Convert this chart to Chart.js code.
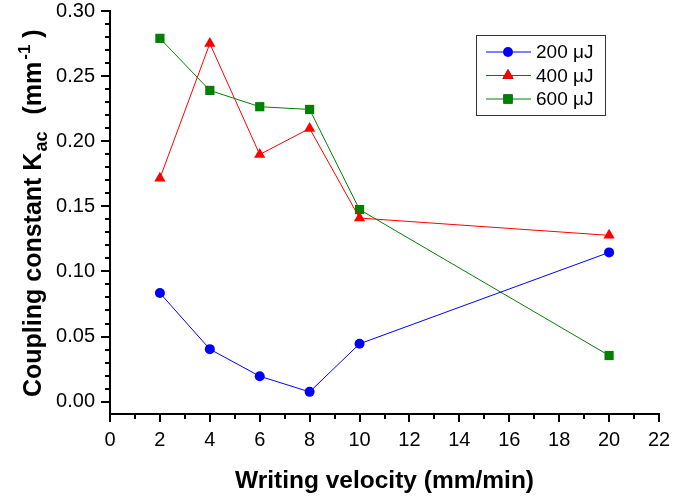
<!DOCTYPE html>
<html>
<head>
<meta charset="utf-8">
<script src="https://cdn.jsdelivr.net/npm/chart.js@4"></script>
<style>
  html, body { margin:0; padding:0; background:#fff; }
  #wrap { width:673px; height:500px; }
</style>
</head>
<body>
<div id="wrap"><canvas id="c" width="673" height="500"></canvas></div>
<script>
/* coupling constant vs writing velocity, 3 pulse energies */

const velocity = [2, 4, 6, 8, 10, 20];
const kac200 = [0.0834, 0.0403, 0.0195, 0.0075, 0.0444, 0.1146];
const kac400 = [0.1715, 0.2750, 0.1898, 0.2098, 0.1410, 0.1277];
const kac600 = [0.2790, 0.2390, 0.2265, 0.2244, 0.1475, 0.0354];
const seriesLabels = ['200 μJ', '400 μJ', '600 μJ'];
const yMajorTicks = [0, 0.05, 0.10, 0.15, 0.20, 0.25, 0.30];

const FONT = "'Liberation Sans', Arial, sans-serif";
Chart.defaults.font.family = FONT;
Chart.defaults.color = '#000';

const pts = ys => velocity.map((x, i) => ({ x, y: ys[i] }));

function ds(label, ys, color, style, r){
  return {
    label, data: pts(ys),
    borderColor: color, backgroundColor: color,
    borderWidth: 1,
    pointStyle: style, pointRadius: r, pointHoverRadius: r,
    pointBackgroundColor: color, pointBorderWidth: 0,
    tension: 0, fill: false,
  };
}

// axis tick marks (major + minor, outside)
const tickMarks = {
  id: 'tickMarks',
  afterDraw(chart){
    const { ctx, chartArea: a } = chart;
    const xs = chart.scales.x, ys = chart.scales.y;
    ctx.save();
    ctx.strokeStyle = '#000';
    ctx.lineWidth = 2;
    ctx.beginPath();
    for (let v = 0; v <= 22; v++){
      const px = Math.round(xs.getPixelForValue(v));
      ctx.moveTo(px, a.bottom);
      ctx.lineTo(px, a.bottom + (v % 2 === 0 ? 8 : 5));
    }
    for (let i = 0; i <= 30; i++){
      const py = Math.round(ys.getPixelForValue(i / 100));
      ctx.moveTo(a.left, py);
      ctx.lineTo(a.left - (i % 5 === 0 ? 9 : 5), py);
    }
    ctx.stroke();
    ctx.restore();
  }
};

// y title with subscript / superscript
const yTitle = {
  id: 'yTitle',
  afterDraw(chart){
    const ctx = chart.ctx;
    // text, size, baseline shift, gap before
    const parts = [
      ['Coupling constant K', 25, 0, 0],
      ['ac', 18, 6, 1],
      ['(mm', 25, 0, 17],
      ['-1', 17, -11, 2],
      [')', 25, 0, 7],
    ];
    ctx.save();
    ctx.translate(41, 397);
    ctx.rotate(-Math.PI / 2);
    ctx.fillStyle = '#000';
    ctx.textBaseline = 'alphabetic';
    ctx.textAlign = 'left';
    let x = 0;
    for (const [t, size, dy, gap] of parts){
      x += gap;
      ctx.font = `bold ${size}px ${FONT}`;
      ctx.fillText(t, x, dy);
      x += ctx.measureText(t).width;
    }
    ctx.restore();
  }
};

// boxed legend: line + marker + label
const boxLegend = {
  id: 'boxLegend',
  afterDraw(chart){
    const ctx = chart.ctx;
    const bx = 476, by = 35, bw = 129, bh = 80;
    const rows = [52, 75.5, 99];
    ctx.save();
    ctx.fillStyle = '#fff';
    ctx.fillRect(bx, by, bw, bh);
    ctx.strokeStyle = '#333';
    ctx.lineWidth = 1;
    ctx.strokeRect(bx + 0.5, by + 0.5, bw, bh);
    chart.data.datasets.forEach((d, i) => {
      const y = rows[i];
      ctx.strokeStyle = d.borderColor;
      ctx.lineWidth = 1;
      ctx.beginPath();
      ctx.moveTo(486, y); ctx.lineTo(531, y);
      ctx.stroke();
      Chart.helpers.drawPoint(ctx, {
        pointStyle: d.pointStyle, radius: d.pointRadius, borderWidth: 0, rotation: 0
      }, 508, y);
      ctx.fillStyle = d.backgroundColor;
      ctx.fill();
      ctx.fillStyle = '#000';
      ctx.font = `19px ${FONT}`;
      ctx.textBaseline = 'middle';
      ctx.textAlign = 'left';
      ctx.fillText(d.label, 536, y + 1);
    });
    ctx.restore();
  }
};

new Chart(document.getElementById('c'), {
  type: 'line',
  data: {
    datasets: [
      ds(seriesLabels[0], kac200, '#0000ff', 'circle', 5),
      ds(seriesLabels[1], kac400, '#ff0000', 'triangle', 6.5),
      ds(seriesLabels[2], kac600, '#008000', 'rect', 6.5),
    ]
  },
  options: {
    responsive: false,
    animation: false,
    devicePixelRatio: 1,
    layout: { padding: { left: 0, right: 14, top: 11, bottom: 0 } },
    plugins: { legend: { display: false }, tooltip: { enabled: false } },
    scales: {
      x: {
        type: 'linear', min: 0, max: 22,
        grid: { display: false, drawTicks: false },
        border: { display: true, color: '#000', width: 2 },
        ticks: { stepSize: 2, font: { size: 20 }, color: '#000', padding: 14, maxRotation: 0 },
        title: {
          display: true, text: 'Writing velocity (mm/min)',
          font: { size: 24.5, weight: 'bold' }, color: '#000',
          padding: { top: 0, bottom: 4 }
        },
        afterFit(s){ s.height = 86; s.paddingLeft = 0; s.paddingRight = 0; }
      },
      y: {
        type: 'linear', min: -0.0095, max: 0.30,
        grid: { display: false, drawTicks: false },
        border: { display: true, color: '#000', width: 2 },
        ticks: { font: { size: 20 }, color: '#000', padding: 15, callback: v => Number(v).toFixed(2) },
        afterBuildTicks(s){ s.ticks = yMajorTicks.map(v => ({ value: v })); },
        afterFit(s){ s.width = 110; s.paddingTop = 0; s.paddingBottom = 0; }
      }
    }
  },
  plugins: [tickMarks, yTitle, boxLegend]
});
</script>
</body>
</html>
